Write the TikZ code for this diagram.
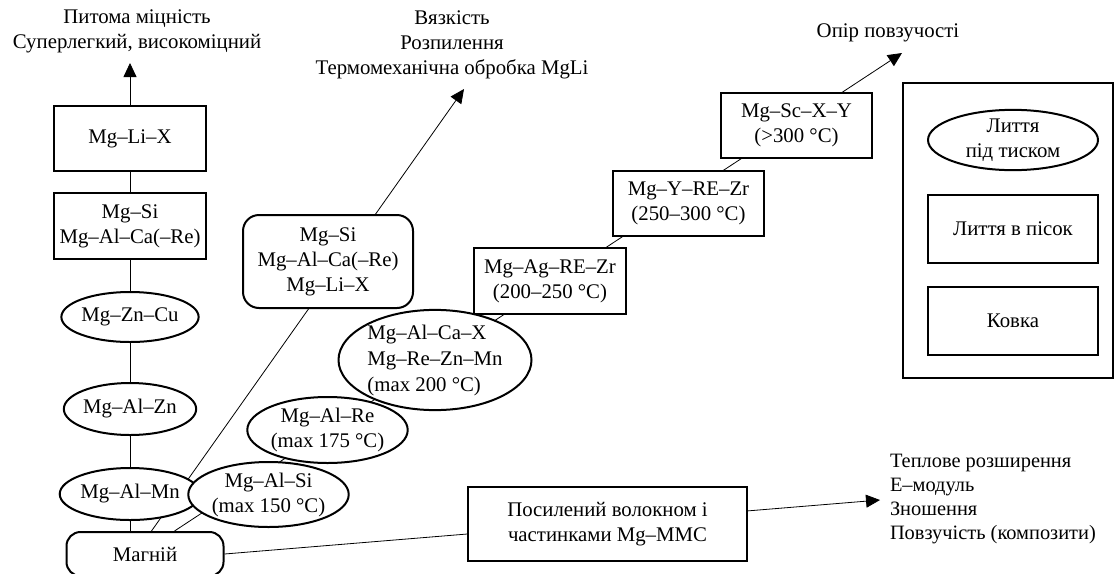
\documentclass[tikz,border=0pt]{standalone}
\usepackage{fontspec}
\setmainfont{Liberation Serif}
\usetikzlibrary{shapes.geometric,arrows.meta,backgrounds,calc}
\begin{document}
\begin{tikzpicture}[x=0.5pt, y=-0.5pt, font=\fontsize{10.4}{12.5}\selectfont,
	line width=1pt,
	alloybox/.style={draw, fill=white, align=center, inner sep=0pt},
	alloyoval/.style={draw, ellipse, fill=white, align=center, inner sep=0pt},
	alloyround/.style={draw, rounded corners=7pt, fill=white, align=center, inner sep=0pt},
	trend/.style={-{Triangle[length=7pt,width=6.5pt]}},
	caption/.style={align=center, inner sep=0pt}]
	\useasboundingbox (0,0) rectangle (1117,573);
	%light alloys
	\node[alloybox, minimum width=76pt, minimum height=32.5pt] (mglix) at (130,138.5) {Mg–Li–X};
	\node[alloybox, minimum width=76pt, minimum height=33pt] (mgsica) at (130,226) {Mg–Si\\Mg–Al–Ca(–Re)};
	\node[alloyoval, minimum width=62pt, minimum height=25pt] (mgzncu) at (130,317) {Mg–Zn–Cu};
	\node[alloyoval, minimum width=62pt, minimum height=26pt] (mgalzn) at (130,409) {Mg–Al–Zn};
	\node[alloyoval, minimum width=62pt, minimum height=26pt] (mgalmn) at (130,494) {Mg–Al–Mn};
	\node[alloyround, minimum width=78.5pt, minimum height=22pt] (magn) at (145,554) {Магній};
	%heat resistant alloys
	\node[alloyoval, minimum width=79.5pt, minimum height=32.5pt] (mgalsi) at (268.5,494.5) {Mg–Al–Si\\(max 150 °C)};
	\node[alloyoval, minimum width=79.5pt, minimum height=33pt] (mgalre) at (327.5,430) {Mg–Al–Re\\(max 175 °C)};
	\node[alloyoval, minimum width=96.5pt, minimum height=45pt, align=left, font=\fontsize{10.4}{13}\selectfont] (mgalca) at (435,360) {Mg–Al–Ca–X\\Mg–Re–Zn–Mn\\(max 200 °C)};
	\node[alloybox, minimum width=76pt, minimum height=33pt] (mgag) at (550,281) {Mg–Ag–RE–Zr\\(200–250 °C)};
	\node[alloybox, minimum width=75.5pt, minimum height=32.5pt] (mgyre) at (688.5,203.5) {Mg–Y–RE–Zr\\(250–300 °C)};
	\node[alloybox, minimum width=75.5pt, minimum height=32.5pt] (mgsc) at (796.5,125.5) {Mg–Sc–X–Y\\(>300 °C)};
	%tough alloys
	\node[alloyround, rounded corners=8pt, minimum width=85pt, minimum height=46.5pt] (mgsili) at (328,261.5) {Mg–Si\\Mg–Al–Ca(–Re)\\Mg–Li–X};
	%composites
	\node[alloybox, minimum width=139.5pt, minimum height=37pt] (mmc) at (607.5,524) {Посилений волокном і\\частинками Mg–MMC};
	%processes
	\node[draw, minimum width=105pt, minimum height=147.5pt] (process) at (1008,230.5) {};
	\node[alloyoval, minimum width=85pt, minimum height=30pt] (diecast) at (1013,140) {Лиття\\під тиском};
	\node[alloybox, minimum width=85pt, minimum height=34pt] (sandcast) at (1013,229) {Лиття в пісок};
	\node[alloybox, minimum width=85pt, minimum height=34pt] (forging) at (1013,321) {Ковка};
	%targets
	\coordinate (tipstrength) at (130,63);
	\coordinate (tiptough) at (464,89);
	\coordinate (tipcreep) at (902,53);
	\coordinate (tipmmc) at (880,500);
	\node[caption] (strength) at (137,31) {Питома міцність\\Суперлегкий, високоміцний};
	\node[caption] (tough) at (452,45) {Вязкість\\Розпилення\\Термомеханічна обробка MgLi};
	\node[caption] (creep) at (888,33) {Опір повзучості};
	\node[caption, anchor=west, align=left, font=\fontsize{10.2}{12}\selectfont] (props) at (889,499) {Теплове розширення\\Е–модуль\\Зношення\\Повзучість (композити)};
	%connectors
	\begin{scope}[on background layer]
	\draw[trend] (magn.north -| mglix) -- (tipstrength);
	\draw[trend] ($(magn.north west)+(86,0)$) -- (tiptough);
	\draw[trend] ($(magn.north west)+(109,0)$) -- (tipcreep);
	\draw[trend] (magn.east) -- (tipmmc);
	\end{scope}
\end{tikzpicture}
\end{document}
